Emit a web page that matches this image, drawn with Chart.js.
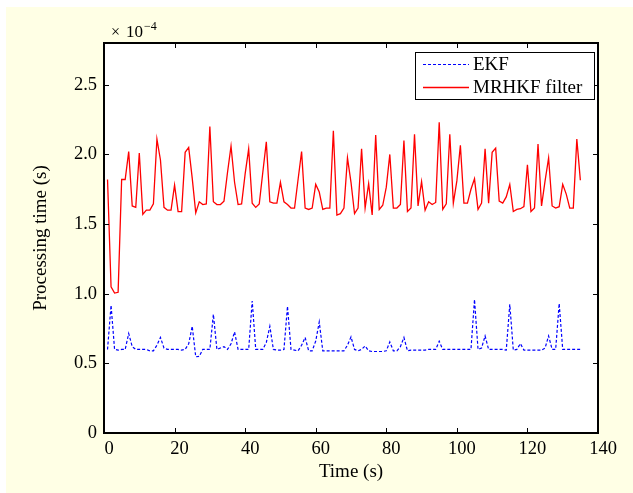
<!DOCTYPE html>
<html>
<head>
<meta charset="utf-8">
<script src="https://cdn.jsdelivr.net/npm/chart.js@4.4.1/dist/chart.umd.min.js"></script>
<style>
  html, body { margin: 0; padding: 0; background: #fff; }
  canvas { display: block; }
</style>
</head>
<body>
<canvas id="procChart" width="633" height="493" style="width:633px;height:493px"></canvas>
<script>
// sample times run from 1 s, one sample per second
const firstTime = 1;

// processing time, in units of 1e-4 s
const ekfTimes = [
  0.60, 0.917, 0.60, 0.595, 0.60, 0.60, 0.714, 0.62, 0.60, 0.60,
  0.60, 0.60, 0.59, 0.59, 0.63, 0.686, 0.61, 0.60, 0.60, 0.60,
  0.60, 0.595, 0.60, 0.64, 0.766, 0.547, 0.55, 0.60, 0.60, 0.60,
  0.852, 0.60, 0.61, 0.62, 0.60, 0.64, 0.726, 0.60, 0.60, 0.60,
  0.60, 0.948, 0.60, 0.60, 0.60, 0.65, 0.766, 0.60, 0.595, 0.595,
  0.60, 0.91, 0.60, 0.595, 0.59, 0.63, 0.686, 0.59, 0.59, 0.66,
  0.797, 0.59, 0.59, 0.59, 0.59, 0.59, 0.59, 0.59, 0.63, 0.69,
  0.60, 0.59, 0.60, 0.625, 0.59, 0.585, 0.585, 0.585, 0.585, 0.59,
  0.654, 0.59, 0.59, 0.62, 0.686, 0.59, 0.595, 0.595, 0.595, 0.595,
  0.595, 0.60, 0.60, 0.60, 0.659, 0.60, 0.60, 0.60, 0.60, 0.60,
  0.60, 0.60, 0.60, 0.60, 0.958, 0.60, 0.61, 0.697, 0.60, 0.60,
  0.60, 0.60, 0.60, 0.595, 0.924, 0.595, 0.60, 0.642, 0.595, 0.595,
  0.595, 0.595, 0.595, 0.595, 0.61, 0.697, 0.60, 0.60, 0.93, 0.60,
  0.60, 0.60, 0.60, 0.60, 0.60
];

const mrhkfTimes = [
  1.82, 1.05, 1.005, 1.01, 1.82, 1.82, 2.02, 1.63, 1.62, 2.01,
  1.57, 1.60, 1.60, 1.645, 2.11, 1.96, 1.62, 1.60, 1.60, 1.78,
  1.59, 1.59, 2.015, 2.05, 1.83, 1.58, 1.66, 1.64, 1.645, 2.20,
  1.66, 1.64, 1.64, 1.665, 1.87, 2.06, 1.80, 1.64, 1.645, 1.86,
  2.04, 1.65, 1.62, 1.645, 1.87, 2.09, 1.66, 1.65, 1.65, 1.80,
  1.66, 1.64, 1.615, 1.615, 1.82, 2.02, 1.615, 1.605, 1.615, 1.785,
  1.73, 1.605, 1.615, 1.615, 2.17, 1.565, 1.575, 1.615, 1.975, 1.80,
  1.575, 1.615, 2.04, 1.615, 1.79, 1.565, 2.14, 1.605, 1.635, 1.765,
  2.00, 1.615, 1.615, 1.64, 2.10, 1.59, 1.615, 2.145, 1.63, 1.805,
  1.60, 1.66, 1.64, 1.655, 2.23, 1.605, 1.645, 2.145, 1.65, 1.81,
  2.065, 1.65, 1.65, 1.75, 1.825, 1.605, 1.65, 2.04, 1.65, 2.015,
  2.045, 1.665, 1.65, 1.695, 1.785, 1.59, 1.605, 1.61, 1.625, 1.925,
  1.59, 1.615, 2.075, 1.63, 1.81, 1.975, 1.63, 1.615, 1.625, 1.785,
  1.715, 1.615, 1.615, 2.11, 1.815
];

const xTicks = [0, 20, 40, 60, 80, 100, 120, 140];
const yTicks = [0, 0.5, 1.0, 1.5, 2.0, 2.5];
const yTickLabels = ['0', '0.5', '1.0', '1.5', '2.0', '2.5'];

const serif = '"Liberation Serif", "Times New Roman", serif';

function toPoints(values) {
  return values.map((v, i) => ({ x: firstTime + i, y: v }));
}

// yellow figure background
const figureBackground = {
  id: 'figureBackground',
  beforeDraw(chart) {
    const c = chart.ctx;
    c.save();
    c.fillStyle = '#ffffff';
    c.fillRect(0, 0, chart.width, chart.height);
    c.fillStyle = 'rgb(255,255,229)';
    c.fillRect(6, 7, chart.width - 6, chart.height - 7);
    const a = chart.chartArea;
    c.fillStyle = '#ffffff';
    c.fillRect(a.left, a.top, a.right - a.left, a.bottom - a.top);
    c.restore();
  }
};

// box, inward ticks on all four sides, exponent and legend
const matlabAxes = {
  id: 'matlabAxes',
  afterDraw(chart) {
    const c = chart.ctx;
    const a = chart.chartArea;
    const xs = chart.scales.x;
    const ys = chart.scales.y;
    const tick = 5;
    c.save();
    c.strokeStyle = '#000';
    c.lineWidth = 1;
    c.beginPath();
    xTicks.forEach(v => {
      const px = Math.round(xs.getPixelForValue(v)) + 0.5;
      c.moveTo(px, a.bottom); c.lineTo(px, a.bottom - tick);
      c.moveTo(px, a.top); c.lineTo(px, a.top + tick);
    });
    yTicks.forEach(v => {
      const py = Math.round(ys.getPixelForValue(v)) + 0.5;
      c.moveTo(a.left, py); c.lineTo(a.left + tick, py);
      c.moveTo(a.right, py); c.lineTo(a.right - tick, py);
    });
    c.stroke();

    c.lineWidth = 2;
    c.strokeRect(a.left, a.top, a.right - a.left, a.bottom - a.top);

    // exponent label
    c.fillStyle = '#000';
    c.textBaseline = 'middle';
    c.textAlign = 'left';
    c.font = '16px ' + serif;
    c.fillText('\u00d7', a.left + 7, 33);
    c.font = '17px ' + serif;
    c.fillText('10', a.left + 22, 33);
    c.font = '12px ' + serif;
    c.fillText('\u22124', a.left + 40, 27);

    // legend
    const box = { left: 415, top: 52, right: 594, bottom: 99 };
    c.fillStyle = '#ffffff';
    c.fillRect(box.left, box.top, box.right - box.left, box.bottom - box.top);
    c.lineWidth = 1;
    c.strokeStyle = '#000';
    c.strokeRect(box.left + 0.5, box.top + 0.5, box.right - box.left, box.bottom - box.top);
    const rows = [64, 87];
    chart.data.datasets.forEach((ds, i) => {
      const y = rows[i] + 0.5;
      c.beginPath();
      c.strokeStyle = ds.borderColor;
      c.lineWidth = ds.borderWidth;
      c.setLineDash(ds.borderDash || []);
      c.moveTo(423, y); c.lineTo(469, y);
      c.stroke();
      c.setLineDash([]);
      c.fillStyle = '#000';
      c.font = '19px ' + serif;
      c.textBaseline = 'middle';
      c.fillText(ds.label, 473, rows[i] + 1);
    });
    c.restore();
  }
};

const ctx = document.getElementById('procChart').getContext('2d');

new Chart(ctx, {
  type: 'line',
  data: {
    datasets: [
      {
        label: 'EKF',
        data: toPoints(ekfTimes),
        borderColor: '#0000ff',
        borderWidth: 1.2,
        borderDash: [3, 2],
        pointRadius: 0,
        tension: 0,
        fill: false
      },
      {
        label: 'MRHKF filter',
        data: toPoints(mrhkfTimes),
        borderColor: '#ff0000',
        borderWidth: 1.3,
        pointRadius: 0,
        tension: 0,
        fill: false
      }
    ]
  },
  options: {
    responsive: false,
    animation: false,
    events: [],
    layout: { padding: { left: 0, top: 43, right: 35, bottom: 0 } },
    plugins: {
      legend: { display: false },
      tooltip: { enabled: false }
    },
    scales: {
      x: {
        type: 'linear',
        min: 0,
        max: 140,
        afterBuildTicks: (scale) => { scale.ticks = xTicks.map(v => ({ value: v })); },
        afterFit: (scale) => { scale.height = 60; },
        grid: { display: false, drawTicks: false },
        border: { display: false },
        ticks: {
          color: '#000',
          font: { family: serif, size: 18.5 },
          padding: 5,
          labelOffset: 5,
          maxRotation: 0,
          autoSkip: false
        },
        title: {
          display: true,
          text: 'Time (s)',
          color: '#000',
          font: { family: serif, size: 19 },
          padding: { top: 0, bottom: 10 }
        }
      },
      y: {
        type: 'linear',
        min: 0,
        max: 2.8,
        afterBuildTicks: (scale) => { scale.ticks = yTicks.map(v => ({ value: v })); },
        afterFit: (scale) => { scale.width = 104; },
        grid: { display: false, drawTicks: false },
        border: { display: false },
        ticks: {
          color: '#000',
          font: { family: serif, size: 18.5 },
          padding: 7,
          autoSkip: false,
          callback: (value) => {
            const i = yTicks.indexOf(value);
            return i >= 0 ? yTickLabels[i] : '';
          }
        },
        title: {
          display: true,
          text: 'Processing time (s)',
          color: '#000',
          font: { family: serif, size: 19 },
          padding: { top: 30, bottom: 0 }
        }
      }
    }
  },
  plugins: [figureBackground, matlabAxes]
});
</script>
</body>
</html>
